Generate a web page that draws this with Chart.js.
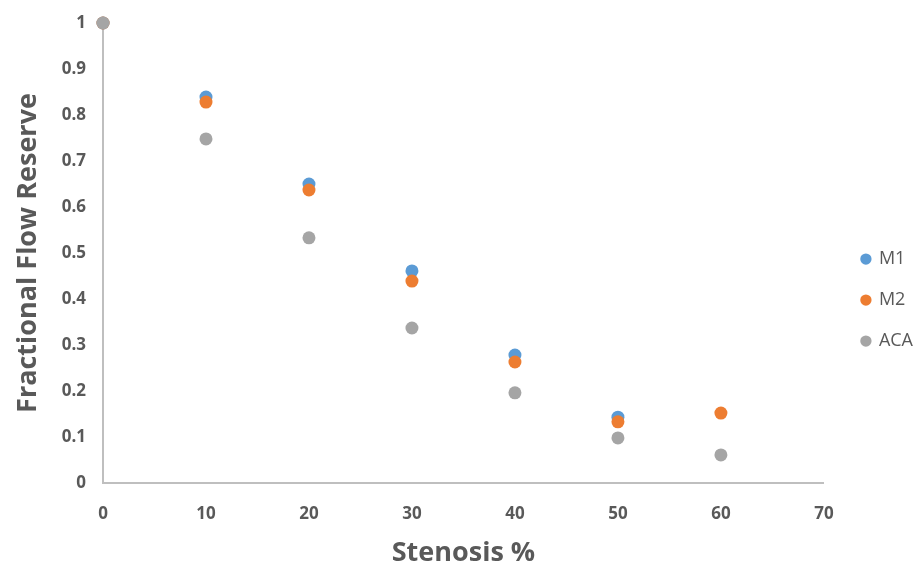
<!DOCTYPE html>
<html>
<head>
<meta charset="utf-8">
<script src="https://cdn.jsdelivr.net/npm/chart.js@4.4.1/dist/chart.umd.min.js"></script>
<style>
  html, body { margin: 0; padding: 0; background: #fff; }
  #wrap { width: 916px; height: 565px; }
</style>
</head>
<body>
<div id="wrap"><canvas id="myChart" width="916" height="565"></canvas></div>
<script>
// stenosis % on the x axis
const stenosis = [0, 10, 20, 30, 40, 50, 60];
// fractional flow reserve per model (null = no visible point)
const m1Values = [1, 0.839, 0.650, 0.461, 0.278, 0.143, null];
const m2Values = [1, 0.828, 0.637, 0.439, 0.263, 0.133, 0.152];
const acaValues = [1, 0.748, 0.533, 0.337, 0.196, 0.098, 0.061];
const seriesNames = ['M1', 'M2', 'ACA'];
const xTicks = [0, 10, 20, 30, 40, 50, 60, 70];
const yTicks = [0, 0.1, 0.2, 0.3, 0.4, 0.5, 0.6, 0.7, 0.8, 0.9, 1];

const colors = ['#5B9BD5', '#ED7D31', '#A5A5A5'];
const textGrey = '#595959';

function toPoints(vals) {
  return stenosis.map((x, i) => ({ x: x, y: vals[i] })).filter(p => p.y !== null);
}

const allSeries = [m1Values, m2Values, acaValues];

let ctx = document.getElementById('myChart');
let myChart = new Chart(ctx, {
  type: 'scatter',
  data: {
    datasets: allSeries.map((vals, i) => ({
      label: seriesNames[i],
      data: toPoints(vals),
      backgroundColor: colors[i],
      borderColor: colors[i],
      borderWidth: 0,
      pointRadius: 6.5,
      pointHoverRadius: 6.5,
      order: allSeries.length - i, // later series drawn on top, like Excel
      clip: false
    }))
  },
  options: {
    responsive: false,
    animation: false,
    layout: {
      padding: { top: 0, right: -7, bottom: 0, left: 0 }
    },
    scales: {
      x: {
        type: 'linear',
        min: 0,
        max: 70,
        afterBuildTicks: (scale) => { scale.ticks = xTicks.map(v => ({ value: v })); },
        afterFit: (scale) => { scale.height = 82; },
        grid: { display: false, drawTicks: false },
        border: { display: true, color: '#BFBFBF', width: 2 },
        ticks: {
          color: textGrey,
          padding: 21,
          font: { family: 'Open Sans', size: 17, weight: 'bold' }
        },
        title: {
          display: true,
          text: 'Stenosis %',
          color: textGrey,
          padding: { top: 0, bottom: 0 },
          font: { family: 'Open Sans', size: 27, weight: 'bold', lineHeight: 0.9 }
        }
      },
      y: {
        type: 'linear',
        min: 0,
        max: 1,
        afterBuildTicks: (scale) => { scale.ticks = yTicks.map(v => ({ value: v })); },
        afterFit: (scale) => {
          scale.width = 103;
          scale.paddingTop = 23;
        },
        grid: { display: false, drawTicks: false },
        border: { display: true, color: '#BFBFBF', width: 2 },
        ticks: {
          color: textGrey,
          padding: 17,
          font: { family: 'Open Sans', size: 17, weight: 'bold' },
          callback: (v) => String(Math.round(v * 10) / 10)
        },
        title: {
          display: true,
          text: 'Fractional Flow Reserve',
          color: textGrey,
          padding: { top: 12, bottom: 0 },
          font: { family: 'Open Sans', size: 27, weight: 'bold' }
        }
      },
      // empty spacer between the plot and the legend
      gap: {
        type: 'linear',
        position: 'right',
        display: true,
        afterFit: (scale) => { scale.width = 15; },
        grid: { display: false, drawTicks: false },
        border: { display: false },
        ticks: { display: false }
      }
    },
    plugins: {
      tooltip: { enabled: false },
      legend: {
        position: 'right',
        align: 'center',
        title: { display: true, text: ' ', padding: { top: 0, bottom: 16 }, font: { size: 16 } },
        labels: {
          usePointStyle: true,
          pointStyle: 'circle',
          boxWidth: 8,
          boxHeight: 8,
          padding: 23,
          color: textGrey,
          font: { family: 'Open Sans', size: 18 },
          sort: (a, b) => a.datasetIndex - b.datasetIndex
        }
      }
    }
  }
});
</script>
</body>
</html>
